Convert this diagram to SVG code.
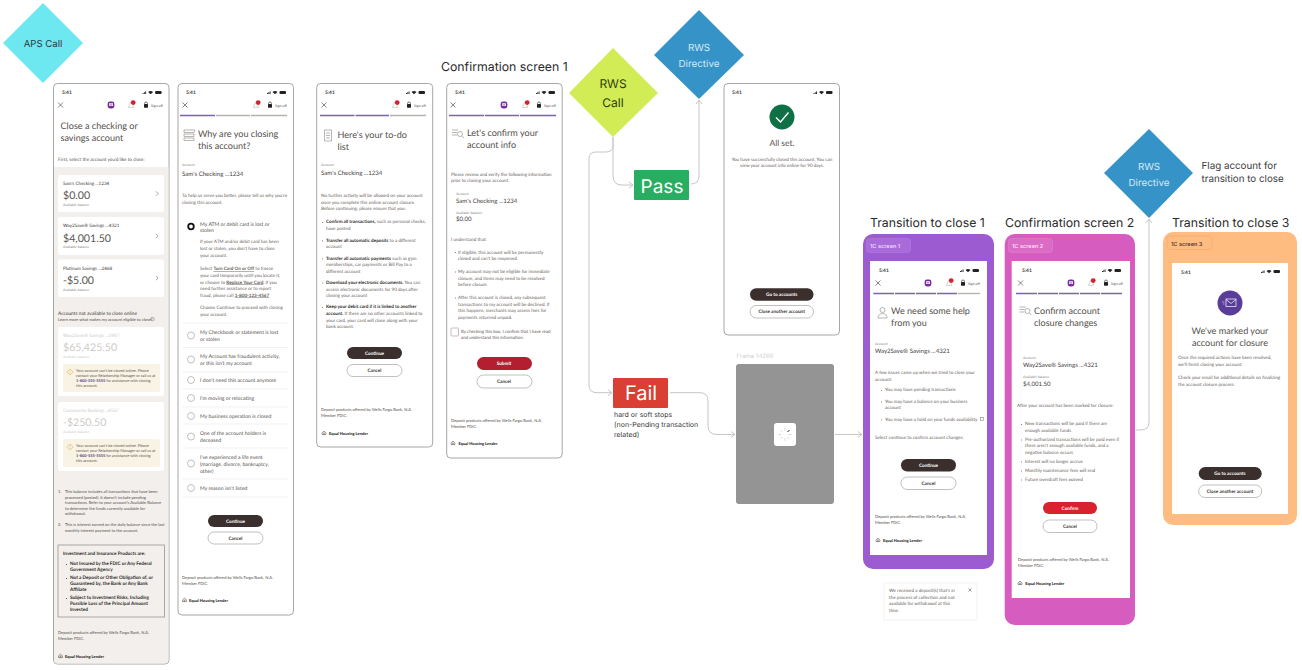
<svg xmlns="http://www.w3.org/2000/svg" xmlns:xlink="http://www.w3.org/1999/xlink" width="1302" height="670" viewBox="0 0 1302 670">
<style>
text{font-family:Lato,"Noto Sans",sans-serif;fill:#44403c;font-size:4.3px;text-rendering:geometricPrecision}
.lab{font-family:Inter,"Liberation Sans",sans-serif}
.h{font-family:Inter,"Liberation Sans",sans-serif;font-size:12.3px;fill:#2b2b2b}
.t{font-size:9.1px;fill:#55504c}
.s{font-size:3.5px;fill:#8a8580}
.acc{font-size:6.1px}
.f{font-size:4.05px;fill:#55504c}
.b{font-weight:700;fill:#2d2a28}
.bb{font-size:4.7px;font-weight:700;fill:#2d2a28}
.o{font-size:5.15px;fill:#55504c}
.n{font-size:4.6px;fill:#5f5a56}
.g{fill:#cfcbc7}
.bal{font-size:10.6px;fill:#5a5651}
.w{font-size:3.9px;fill:#5f5a56}
.cn1{font-size:4.6px;fill:#3a3633}
.cg{font-size:4.6px;fill:#cfcbc7}
.ehl{font-size:4px;font-weight:900;fill:#2d2a28}
.tim{font-size:4.9px;font-weight:700;fill:#3a3633}
.so{font-size:3.6px;fill:#55504c}
.bt{font-size:4.7px;font-weight:700;fill:#fff;text-anchor:middle}
.bc{font-size:4.7px;font-weight:700;fill:#3a3633;text-anchor:middle}
.phone{fill:#fff;stroke:#a9a6a3;stroke-width:1}
.dk{fill:#3a2f2d}
.ol{fill:#fff;stroke:#9a9693;stroke-width:.6}
.r{fill:#fff;stroke:#a8a5a2;stroke-width:.7}
.dv{stroke:#eceae8;stroke-width:.6}
.pu{fill:none;stroke:#7a62b8;stroke-width:1.4}
.pg{fill:none;stroke:#b5b2af;stroke-width:1.4}
.card{fill:#fff}
.nb{fill:#f8f3e4}
.cn{fill:none;stroke:#c6c6c6;stroke-width:1}
.tg{font-family:Inter,"Liberation Sans",sans-serif;font-size:5.6px;font-weight:600}
.ic{fill:none;stroke:#8a8580;stroke-width:.6}
.d{font-family:Inter,"Liberation Sans",sans-serif;font-size:9.8px;text-anchor:middle;fill:#d4e9f6}
</style>
<defs>
<marker id="ar" markerWidth="8" markerHeight="8" refX="6" refY="4" orient="auto" markerUnits="userSpaceOnUse"><path d="M2,1 L6,4 L2,7" fill="none" stroke="#c6c6c6" stroke-width="1"/></marker>
<g id="st"><rect x="0" y="1" width=".9" height="1" fill="#222"/><rect x="1.3" y=".2" width=".9" height="1.8" fill="#222"/><rect x="2.6" y="-.6" width=".9" height="2.6" fill="#222"/><path d="M5.5,0 Q8,-2 10.5,0 L8,2.3Z" fill="#222"/><rect x="12.5" y="-1" width="6.5" height="3" rx="1" fill="#222"/></g>
<path id="xx" d="M-2.5,-2.5 L2.5,2.5 M2.5,-2.5 L-2.5,2.5" stroke="#555" stroke-width=".7" fill="none"/>
<g id="chat"><rect x="-3.4" y="-3.4" width="6.8" height="6.8" rx="2.4" fill="#7b2d9e"/><rect x="-1.9" y="-1.8" width="3.8" height="2.8" fill="#fff"/><path d="M-1.4,-.8H1.4M-1.4,.2H1" stroke="#7b2d9e" stroke-width=".5"/></g>
<g id="bell"><path d="M-2.6,2.4 Q-1.6,1 -1.6,-.6 Q-1,-2.6 .6,-2.6 Q2,-2 2,0 L2.6,2.4Z" fill="#fff" stroke="#a9a6a3" stroke-width=".5"/><circle cx="2.2" cy="-2.4" r="2.4" fill="#d3212d"/></g>
<g id="lock"><path d="M-1.4,-.8 V-1.7 Q-1.4,-3 0,-3 Q1.4,-3 1.4,-1.7 V-.8" fill="none" stroke="#222" stroke-width=".6"/><rect x="-2" y="-.9" width="4" height="3.6" rx=".6" fill="#222"/></g>
<path id="eh" d="M-1.9,-.2 L0,-1.9 L1.9,-.2 V1.6 H-1.9Z M-.8,.1H.8M-.8,1H.8" fill="none" stroke="#3a3633" stroke-width=".5"/>
<g id="wi"><path d="M0,-3 L3.2,0 L0,3 L-3.2,0Z" fill="none" stroke="#d8a93c" stroke-width=".5"/><path d="M0,-1.4V.4M0,1V1.5" stroke="#d8a93c" stroke-width=".5"/></g>
<path id="chev" d="M-1,-2.2 L1.2,0 L-1,2.2" fill="none" stroke="#666" stroke-width=".6"/>
</defs>

<g id="connectors">
<path class="cn" marker-end="url(#ar)" d="M613,137 V176 Q613,185 622,185 H633"/>
<path class="cn" marker-end="url(#ar)" d="M613,137 V146 Q613,152 606,152 H596 Q589,152 589,159 V385 Q589,392.7 597,392.7 H612"/>
<path class="cn" marker-end="url(#ar)" d="M691,184 Q699,184 699,176 V100"/>
<path class="cn" marker-end="url(#ar)" d="M670,392.7 H700 Q708,392.7 708,401 V426 Q708,434.5 717,434.5 H735"/>
<path class="cn" marker-end="url(#ar)" d="M835,434.5 H862"/>
<path class="cn" marker-end="url(#ar)" d="M1136,430 H1141 Q1149,430 1149,422 V219"/>
</g>

<g id="aps-call"><path d="M43,3 L83,43 L43,83 L3,43Z" fill="#6de8f0"/><text class="lab" x="43" y="47" text-anchor="middle" style="font-size:9.6px;fill:#263a3d">APS Call</text></g>
<g id="rws-call"><path d="M613,48 L658,93 L613,137 L569,93Z" fill="#d2ec55"/><text class="d" x="613" y="88" style="font-size:12px;fill:#2f3a10">RWS</text><text class="d" x="613" y="107" style="font-size:12px;fill:#2f3a10">Call</text></g>
<g id="rws-directive-1"><path d="M699,10 L744,55 L699,99 L654,55Z" fill="#3593c8"/><text class="d" x="699" y="51">RWS</text><text class="d" x="699" y="67">Directive</text></g>
<g id="rws-directive-2"><path d="M1149,129 L1193,173 L1149,218 L1104,173Z" fill="#3593c8"/><text class="d" x="1149" y="170">RWS</text><text class="d" x="1149" y="186">Directive</text></g>
<g id="flag-note"><text class="lab" x="1201.5" y="168.5" style="font-size:9.8px;fill:#3a3a3a">Flag account for</text><text class="lab" x="1201.5" y="181.5" style="font-size:9.8px;fill:#3a3a3a">transition to close</text></g>
<g id="pass"><rect x="634" y="170" width="55" height="30" rx="1" fill="#27ae60"/><text class="lab" x="662" y="192.5" text-anchor="middle" style="font-size:19px;fill:#fff">Pass</text></g>
<g id="fail"><rect x="613" y="378" width="55" height="30" rx="1" fill="#d94033"/><text class="lab" x="641" y="400" text-anchor="middle" style="font-size:20px;fill:#fff">Fail</text></g>
<g id="fail-note"><text class="lab" x="614" y="417" style="font-size:7px;fill:#3a3a3a">hard or soft stops</text><text class="lab" x="614" y="427" style="font-size:7px;fill:#3a3a3a">(non-Pending transaction</text><text class="lab" x="614" y="437" style="font-size:7px;fill:#3a3a3a">related)</text></g>

<g id="frame-14266"><text class="lab" x="736.5" y="358" style="font-size:6px;fill:#d0d0d0">Frame 14266</text><rect x="736" y="364" width="98" height="140" rx="3" fill="#949494"/><rect x="774" y="423" width="22" height="23" rx="3" fill="#fff"/><path d="M785,428V431M785,438V441M778.5,434.5H781.5M788.5,434.5H791.5M780.5,430L782.5,432M787.5,437L789.5,439M780.5,439L782.5,437" stroke="#ccc" stroke-width=".7" fill="none"/><path d="M787.5,432L789.5,430" stroke="#222" stroke-width="1"/></g>

<g id="screen-select-account">
<rect class="phone" x="53.5" y="83.5" width="115.5" height="580.5" rx="4"/>
<path d="M54,167H168.5V660Q168.5,663.5 165,663.5H57Q54,663.5 54,660Z" fill="#f2efec"/>
<text class="tim" x="62" y="94">5:41</text><use href="#st" x="142.6" y="92"/><use href="#xx" x="60.5" y="105"/><use href="#chat" x="111" y="105"/><use href="#bell" x="131" y="105"/><use href="#lock" x="146" y="105"/><text class="so" x="151" y="106.5">Sign off</text>
<text class="t" x="60.5" y="129">Close a checking or</text><text class="t" x="60.5" y="141">savings account</text>
<text class="f" x="58" y="161" style="font-size:4.65px">First, select the account you'd like to close:</text>
<rect class="card" x="58" y="175" width="106" height="37" rx="2"/><rect class="card" x="58" y="217" width="106" height="38" rx="2"/><rect class="card" x="58" y="259.5" width="106" height="37.5" rx="2"/>
<text class="cn1" x="63" y="185">Sam's Checking ...1234</text><text class="bal" x="63" y="199">$0.00</text><text class="s" x="63" y="206">Available balance</text><use href="#chev" x="157" y="193.5"/>
<text class="cn1" x="63" y="227">Way2Save® Savings ...4321</text><text class="bal" x="63" y="241.5">$4,001.50</text><text class="s" x="63" y="248">Available balance</text><use href="#chev" x="157" y="236"/>
<text class="cn1" x="63" y="270">Platinum Savings ...2468</text><text class="bal" x="63" y="284">-$5.00</text><text class="s" x="63" y="291">Available balance</text><use href="#chev" x="157" y="278"/>
<text class="f" x="58" y="315" style="font-size:4.8px;fill:#3a3633">Accounts not available to close online</text><text class="s" x="58" y="321" style="font-size:4.1px;fill:#55504c">Learn more what makes my account eligible to close?</text><circle class="ic" cx="152.5" cy="319" r="1.8"/>
<rect class="card" x="58" y="327" width="106" height="69" rx="2"/>
<text class="cg" x="63" y="337">Way2Save® Savings ...0987</text><text class="bal" x="63" y="351" style="fill:#cfcbc7">$65,425.50</text><text class="s g" x="63" y="358">Available balance</text>
<rect class="nb" x="63" y="364" width="97" height="28" rx="2"/><use href="#wi" x="70" y="372"/>
<text class="w" x="76" y="372">Your account can't be closed online. Please</text><text class="w" x="76" y="377">contact your Relationship Manager or call us at</text><text class="w" x="76" y="382"><tspan fill="#4a3a80" font-weight="700">1-800-555-5555</tspan> for assistance with closing</text><text class="w" x="76" y="387">this account.</text>
<rect class="card" x="58" y="402" width="106" height="69" rx="2"/>
<text class="cg" x="63" y="412">Community Banking ...4567</text><text class="bal" x="63" y="426" style="fill:#cfcbc7">-$250.50</text><text class="s g" x="63" y="433">Available balance</text>
<rect class="nb" x="63" y="439" width="97" height="28" rx="2"/><use href="#wi" x="70" y="447"/>
<text class="w" x="76" y="447">Your account can't be closed online. Please</text><text class="w" x="76" y="452">contact your Relationship Manager or call us at</text><text class="w" x="76" y="457"><tspan fill="#4a3a80" font-weight="700">1-800-555-5555</tspan> for assistance with closing</text><text class="w" x="76" y="462">this account.</text>
<text class="f" x="58" y="493">1.</text><text class="f" x="65" y="493">This balance includes all transactions that have been</text><text class="f" x="65" y="498.5">processed (posted). It doesn't include pending</text><text class="f" x="65" y="504">transactions. Refer to your account's Available Balance</text><text class="f" x="65" y="509.5">to determine the funds currently available for</text><text class="f" x="65" y="515">withdrawal.</text>
<text class="f" x="58" y="526">2.</text><text class="f" x="65" y="526">This is interest earned on the daily balance since the last</text><text class="f" x="65" y="532">monthly interest payment to the account.</text>
<rect x="58" y="545" width="106.5" height="72" fill="none" stroke="#9a9693" stroke-width=".8"/>
<text class="bb" x="63" y="555">Investment and Insurance Products are:</text>
<path d="M66,564.5h.8M66,578.5h.8M66,598.5h.8" stroke="#222" stroke-width=".9"/>
<text class="bb" x="70" y="565">Not Insured by the FDIC or Any Federal</text><text class="bb" x="70" y="571">Government Agency</text><text class="bb" x="70" y="579">Not a Deposit or Other Obligation of, or</text><text class="bb" x="70" y="585">Guaranteed by, the Bank or Any Bank</text><text class="bb" x="70" y="591">Affiliate</text><text class="bb" x="70" y="599">Subject to Investment Risks, Including</text><text class="bb" x="70" y="605">Possible Loss of the Principal Amount</text><text class="bb" x="70" y="611">Invested</text>
<text class="f" x="58" y="634">Deposit products offered by Wells Fargo Bank, N.A.</text><text class="f" x="58" y="640">Member FDIC.</text><use href="#eh" x="60.5" y="656"/><text class="ehl" x="65" y="658">Equal Housing Lender</text>
</g>

<g id="screen-why-closing">
<rect class="phone" x="178" y="83.5" width="115.5" height="531.5" rx="4"/>
<text class="tim" x="186" y="94">5:41</text><use href="#st" x="267" y="92"/><use href="#xx" x="185" y="105"/><use href="#bell" x="256" y="105"/><use href="#lock" x="270" y="105"/><text class="so" x="275" y="106.5">Sign off</text>
<path class="pu" d="M180,115.5H215"/><path class="pg" d="M216,115.5H250M251,115.5H287"/>
<path class="ic" d="M184,130h11l-1,2.5h-10zM184,134h10v2.5h-10zM184,138h10v2.5h-10z"/>
<text class="t" x="198" y="137">Why are you closing</text><text class="t" x="198" y="149">this account?</text>
<text class="s" x="182" y="166">Account</text><text class="acc" x="182" y="176">Sam's Checking ...1234</text>
<text class="n" x="182" y="197">To help us serve you better, please tell us why you're</text><text class="n" x="182" y="204">closing this account.</text>
<circle cx="191" cy="226.5" r="2.8" fill="#fff" stroke="#111" stroke-width="1.8"/>
<text class="o" x="200" y="225.5">My ATM or debit card is lost or</text><text class="o" x="200" y="232">stolen</text>
<text class="n" x="200" y="243">If your ATM and/or debit card has been</text><text class="n" x="200" y="250">lost or stolen, you don't have to close</text><text class="n" x="200" y="256.5">your account.</text>
<text class="n" x="200" y="270">Select <tspan font-weight="700" text-decoration="underline">Turn Card On or Off</tspan> to freeze</text><text class="n" x="200" y="277">your card temporarily until you locate it,</text><text class="n" x="200" y="283.5">or choose to <tspan font-weight="700" text-decoration="underline">Replace Your Card</tspan>. If you</text><text class="n" x="200" y="290">need further assistance or to report</text><text class="n" x="200" y="296.5">fraud, please call <tspan font-weight="700" text-decoration="underline">1-800-123-4567</tspan></text>
<text class="n" x="200" y="309">Choose Continue to proceed with closing</text><text class="n" x="200" y="315.5">your account.</text>
<path class="dv" d="M182,323H288M182,347.5H288M182,372H288M182,389H288M182,407H288M182,424H288M182,448H288M182,479H288M182,497H288"/>
<circle class="r" cx="191" cy="335.5" r="3.5"/><text class="o" x="200" y="334">My Checkbook or statement is lost</text><text class="o" x="200" y="341">or stolen</text>
<circle class="r" cx="191" cy="359.5" r="3.5"/><text class="o" x="200" y="357.5">My Account has fraudulent activity,</text><text class="o" x="200" y="364.5">or this isn't my account</text>
<circle class="r" cx="191" cy="380" r="3.5"/><text class="o" x="200" y="382">I don't need this account anymore</text>
<circle class="r" cx="191" cy="398" r="3.5"/><text class="o" x="200" y="400">I'm moving or relocating</text>
<circle class="r" cx="191" cy="416" r="3.5"/><text class="o" x="200" y="418">My business operation is closed</text>
<circle class="r" cx="191" cy="436.5" r="3.5"/><text class="o" x="200" y="434.5">One of the account holders is</text><text class="o" x="200" y="441.5">deceased</text>
<circle class="r" cx="191" cy="463.5" r="3.5"/><text class="o" x="200" y="458.5">I've experienced a life event</text><text class="o" x="200" y="465.5">(marriage, divorce, bankruptcy,</text><text class="o" x="200" y="472.5">other)</text>
<circle class="r" cx="191" cy="488" r="3.5"/><text class="o" x="200" y="490">My reason isn't listed</text>
<rect class="dk" x="208" y="515" width="55" height="12" rx="6"/><text class="bt" x="235.5" y="522.7">Continue</text><rect class="ol" x="208" y="532" width="55" height="12" rx="6"/><text class="bc" x="235.5" y="539.7">Cancel</text>
<text class="f" x="182" y="578.5">Deposit products offered by Wells Fargo Bank, N.A.</text><text class="f" x="182" y="584.5">Member FDIC.</text><use href="#eh" x="184.5" y="600"/><text class="ehl" x="189" y="602">Equal Housing Lender</text>
</g>

<g id="screen-to-do">
<rect class="phone" x="316.7" y="83.5" width="116" height="363.5" rx="4"/>
<text class="tim" x="325" y="94">5:41</text><use href="#st" x="406" y="92"/><use href="#xx" x="324" y="105"/><use href="#bell" x="395" y="105"/><use href="#lock" x="409" y="105"/><text class="so" x="414" y="106.5">Sign off</text>
<path class="pu" d="M320,115.5H354.5M355.5,115.5H389"/><path class="pg" d="M390,115.5H426"/>
<path class="ic" d="M324.5,130h7v11h-7zM326,133h4M326,135.5h4M326,138h4"/>
<text class="t" x="337.5" y="138">Here's your to-do</text><text class="t" x="337.5" y="150">list</text>
<text class="s" x="321" y="166">Account</text><text class="acc" x="321" y="175">Sam's Checking ...1234</text>
<text class="n" x="321" y="197">No further activity will be allowed on your account</text><text class="n" x="321" y="203.5">once you complete this online account closure.</text><text class="n" x="321" y="210">Before continuing, please ensure that you:</text>
<path d="M322,222.5h.7M322,241h.7M322,259h.7M322,283h.7M322,307.5h.7" stroke="#222" stroke-width=".8"/>
<text class="n" x="326" y="223"><tspan class="b">Confirm all transactions,</tspan> such as personal checks,</text><text class="n" x="326" y="230">have posted</text>
<text class="n" x="326" y="241.5"><tspan class="b">Transfer all automatic deposits</tspan> to a different</text><text class="n" x="326" y="247.5">account</text>
<text class="n" x="326" y="259.5"><tspan class="b">Transfer all automatic payments</tspan> such as gym</text><text class="n" x="326" y="266">memberships, car payments or Bill Pay to a</text><text class="n" x="326" y="272.5">different account</text>
<text class="n" x="326" y="283.5"><tspan class="b">Download your electronic documents.</tspan> You can</text><text class="n" x="326" y="290.5">access electronic documents for 90 days after</text><text class="n" x="326" y="297">closing your account</text>
<text class="n" x="326" y="308"><tspan class="b">Keep your debit card if it is linked to another</tspan></text><text class="n" x="326" y="315"><tspan class="b">account.</tspan> If there are no other accounts linked to</text><text class="n" x="326" y="321.5">your card, your card will close along with your</text><text class="n" x="326" y="328">bank account.</text>
<rect class="dk" x="347" y="347" width="55" height="12" rx="6"/><text class="bt" x="374.5" y="354.7">Continue</text><rect class="ol" x="347" y="364.5" width="55" height="12" rx="6"/><text class="bc" x="374.5" y="372.2">Cancel</text>
<text class="f" x="321" y="410.5">Deposit products offered by Wells Fargo Bank, N.A.</text><text class="f" x="321" y="417">Member FDIC.</text><use href="#eh" x="324" y="433"/><text class="ehl" x="329" y="434.5">Equal Housing Lender</text>
</g>

<g id="screen-confirm-1">
<text class="h" x="441" y="71">Confirmation screen 1</text>
<rect class="phone" x="446.7" y="83.5" width="115.5" height="374.5" rx="4"/>
<text class="tim" x="455" y="94">5:41</text><use href="#st" x="536" y="92"/><use href="#xx" x="453" y="105"/><use href="#chat" x="504" y="105"/><use href="#bell" x="525" y="105"/><use href="#lock" x="539" y="105"/><text class="so" x="544" y="106.5">Sign off</text>
<path class="pu" d="M449,115.5H484M485,115.5H519M520,115.5H556"/>
<path class="ic" d="M452,130h6M452,132.5h5M452,135h5"/><circle class="ic" cx="460" cy="134" r="2.5"/><path class="ic" d="M462,136l2,2"/>
<text class="t" x="467" y="136">Let's confirm your</text><text class="t" x="467" y="148">account info</text>
<text class="n" x="451" y="175.5">Please review and verify the following information</text><text class="n" x="451" y="182">prior to closing your account.</text>
<text class="s" x="456" y="194.5">Account</text><text class="acc" x="456" y="203">Sam's Checking ...1234</text><text class="s" x="456" y="213.5">Available balance</text><text class="acc" x="456" y="221">$0.00</text>
<text class="n" x="451" y="240.5">I understand that:</text>
<path d="M455,252.5h.7M455,272h.7M455,298h.7" stroke="#222" stroke-width=".8"/>
<text class="n" x="458" y="253.5">If eligible, this account will be permanently</text><text class="n" x="458" y="260">closed and can't be reopened.</text>
<text class="n" x="458" y="273">My account may not be eligible for immediate</text><text class="n" x="458" y="279.5">closure, and items may need to be resolved</text><text class="n" x="458" y="286">before closure.</text>
<text class="n" x="458" y="299">After this account is closed, any subsequent</text><text class="n" x="458" y="305.5">transactions to my account will be declined. If</text><text class="n" x="458" y="312">this happens, merchants may assess fees for</text><text class="n" x="458" y="318.5">payments returned unpaid.</text>
<rect x="451" y="328" width="7.5" height="8" rx="1" fill="#fff" stroke="#9a9693" stroke-width=".6"/>
<text class="n" x="461" y="332.5" style="font-size:4.4px">By checking this box, I confirm that I have read</text><text class="n" x="461" y="339" style="font-size:4.4px">and understand this information.</text>
<rect x="477" y="357" width="55" height="13" rx="6.5" fill="#b31e30"/><text class="bt" x="504" y="365.2">Submit</text><rect class="ol" x="477" y="375" width="55" height="13" rx="6.5"/><text class="bc" x="504" y="383.2">Cancel</text>
<text class="f" x="451" y="421.5">Deposit products offered by Wells Fargo Bank, N.A.</text><text class="f" x="451" y="427.5">Member FDIC.</text><use href="#eh" x="453" y="443"/><text class="ehl" x="458.5" y="445">Equal Housing Lender</text>
</g>

<g id="screen-all-set">
<rect class="phone" x="724" y="83.5" width="115.5" height="251.5" rx="4"/>
<text class="tim" x="732" y="94">5:41</text><use href="#st" x="813.5" y="92"/>
<circle cx="782" cy="117" r="12.5" fill="#0f7045"/><path d="M776,117.5L780.5,122L788.5,112.5" fill="none" stroke="#fff" stroke-width="1.4"/>
<text x="782" y="146" text-anchor="middle" style="font-size:8.5px;fill:#55504c">All set.</text>
<text class="n" x="782" y="160.5" text-anchor="middle">You have successfully closed this account. You can</text><text class="n" x="782" y="167" text-anchor="middle">view your account info online for 90 days.</text>
<rect class="dk" x="750" y="288.3" width="63.5" height="12.5" rx="6.2"/><text class="bt" x="781.7" y="296.2">Go to accounts</text><rect class="ol" x="750" y="305.5" width="63.5" height="12.5" rx="6.2"/><text class="bc" x="781.7" y="313.4">Close another account</text>
</g>

<g id="panel-1c-screen-1">
<text class="h" x="870" y="227">Transition to close 1</text>
<rect x="863" y="234" width="131" height="335" rx="10" fill="#9d5bd2"/><rect x="866.5" y="238.5" width="44" height="14" rx="3" fill="#a86bd9" stroke="#b27ee0" stroke-width=".6"/><text class="tg" x="870" y="248" style="fill:#ead8f8">1C screen 1</text>
<rect x="870" y="261" width="117" height="294" fill="#fff"/>
<text class="tim" x="879" y="272">5:41</text><use href="#st" x="960" y="270"/><use href="#xx" x="878" y="283"/><use href="#chat" x="928" y="283"/><use href="#bell" x="949" y="283"/><use href="#lock" x="963" y="283"/><text class="so" x="968" y="284.5">Sign off</text>
<path class="pu" d="M873.3,293.5H894M895,293.5H915M916,293.5H936M937,293.5H957"/><path class="pg" d="M958,293.5H980"/>
<circle class="ic" cx="882.5" cy="310" r="2.5"/><path class="ic" d="M878,318q0,-4 4.5,-4.5q4.5,.5 4.5,4.5z"/>
<text class="t" x="891" y="314">We need some help</text><text class="t" x="891" y="326">from you</text>
<text class="s" x="875" y="344.5">Account</text><text class="acc" x="875" y="353">Way2Save® Savings ...4321</text>
<text class="n" x="875" y="374">A few issues came up when we tried to close your</text><text class="n" x="875" y="381">account:</text>
<path d="M881,390.5h.7M881,402h.7M881,420h.7" stroke="#222" stroke-width=".8"/>
<text class="n" x="885" y="391">You may have pending transactions</text><text class="n" x="885" y="402.5">You may have a balance on your business</text><text class="n" x="885" y="409">account</text><text class="n" x="885" y="420.5">You may have a hold on your funds availability</text><rect class="ic" x="980.5" y="417.5" width="3" height="3"/>
<text class="n" x="875" y="438.5">Select continue to confirm account changes.</text>
<rect class="dk" x="901" y="459" width="55" height="12.5" rx="6.2"/><text class="bt" x="928.5" y="466.9">Continue</text><rect class="ol" x="901" y="477" width="55" height="12.5" rx="6.2"/><text class="bc" x="928.5" y="484.9">Cancel</text>
<text class="f" x="875" y="518">Deposit products offered by Wells Fargo Bank, N.A.</text><text class="f" x="875" y="524">Member FDIC.</text><use href="#eh" x="878" y="540"/><text class="ehl" x="883" y="541.5">Equal Housing Lender</text>
</g>

<g id="tooltip-deposit">
<rect x="884" y="583" width="93" height="37" fill="#fff" stroke="#f0eeec" stroke-width=".7"/>
<text class="n" x="889" y="592">We received a deposit(s) that's in</text><text class="n" x="889" y="598.5">the process of collection and not</text><text class="n" x="889" y="605">available for withdrawal at this</text><text class="n" x="889" y="612">time.</text>
<path d="M968.5,588.5L971.5,591.5M971.5,588.5L968.5,591.5" stroke="#555" stroke-width=".6"/>
</g>

<g id="panel-1c-screen-2">
<text class="h" x="1005" y="227">Confirmation screen 2</text>
<rect x="1004.7" y="234" width="130.3" height="391" rx="10" fill="#d65cc0"/><rect x="1008.5" y="238.5" width="44" height="14" rx="3" fill="#da6cc6" stroke="#e07fce" stroke-width=".6"/><text class="tg" x="1012" y="248" style="fill:#f8dcf2">1C screen 2</text>
<rect x="1011.7" y="261" width="118.3" height="337" fill="#fff"/>
<text class="tim" x="1022" y="272">5:41</text><use href="#st" x="1102" y="270"/><use href="#xx" x="1020.5" y="283"/><use href="#chat" x="1071" y="283"/><use href="#bell" x="1091" y="283"/><use href="#lock" x="1106" y="283"/><text class="so" x="1111" y="284.5">Sign off</text>
<path class="pu" d="M1016,293.5H1037M1038,293.5H1058M1059,293.5H1079M1080,293.5H1100M1101,293.5H1122"/>
<path class="ic" d="M1019.5,307h6M1019.5,309.5h5M1019.5,312h5"/><circle class="ic" cx="1027.5" cy="311" r="2.5"/><path class="ic" d="M1029.5,313l2,2"/>
<text class="t" x="1034" y="314">Confirm account</text><text class="t" x="1034" y="326">closure changes</text>
<text class="s" x="1023" y="359">Account</text><text class="acc" x="1023" y="367">Way2Save® Savings ...4321</text><text class="s" x="1023" y="377.5">Available balance</text><text class="acc" x="1023" y="385.5">$4,001.50</text>
<text class="n" x="1017" y="406.5">After your account has been marked for closure:</text>
<path d="M1021,424.5h.7M1021,440h.7M1021,462h.7M1021,471h.7M1021,480h.7" stroke="#222" stroke-width=".8"/>
<text class="n" x="1025" y="425">New transactions will be paid if there are</text><text class="n" x="1025" y="431.7">enough available funds</text><text class="n" x="1025" y="440.5">Pre-authorized transactions will be paid even if</text><text class="n" x="1025" y="447">there aren't enough available funds, and a</text><text class="n" x="1025" y="454">negative balance occurs</text><text class="n" x="1025" y="462.7">Interest will no longer accrue</text><text class="n" x="1025" y="471.7">Monthly maintenance fees will end</text><text class="n" x="1025" y="480.7">Future overdraft fees waived</text>
<rect x="1043" y="502" width="54" height="12" rx="6" fill="#d8232f"/><text class="bt" x="1070" y="509.7">Confirm</text><rect class="ol" x="1043" y="520" width="54" height="12.5" rx="6.2"/><text class="bc" x="1070" y="527.9">Cancel</text>
<text class="f" x="1018" y="561">Deposit products offered by Wells Fargo Bank, N.A.</text><text class="f" x="1018" y="567">Member FDIC.</text><use href="#eh" x="1020" y="583"/><text class="ehl" x="1025.3" y="584.7">Equal Housing Lender</text>
</g>

<g id="panel-1c-screen-3">
<text class="h" x="1172" y="226.5">Transition to close 3</text>
<rect x="1163" y="232" width="134" height="293" rx="10" fill="#ffbc80"/><rect x="1167" y="236" width="45" height="13.5" rx="3" fill="#ffbc80" stroke="#efa766" stroke-width=".6"/><text class="tg" x="1171" y="245.5" style="fill:#5a4030">1C screen 3</text>
<rect x="1172" y="263" width="116" height="251" fill="#fff"/>
<text class="tim" x="1181" y="273.5">5:41</text><use href="#st" x="1261" y="271"/>
<circle cx="1230" cy="303" r="12.5" fill="#5a3d99"/><rect x="1226" y="299" width="10" height="7.5" fill="none" stroke="#fff" stroke-width=".7"/><path d="M1226,299.5L1231,303.5L1236,299.5" fill="none" stroke="#fff" stroke-width=".7"/><path d="M1222,302h2.5M1223,304h1.5" stroke="#fff" stroke-width=".5"/>
<text class="t" x="1230" y="333.5" text-anchor="middle">We've marked your</text><text class="t" x="1230" y="345.5" text-anchor="middle">account for closure</text>
<text class="n" x="1178" y="359">Once the required actions have been resolved,</text><text class="n" x="1178" y="365.7">we'll finish closing your account.</text><text class="n" x="1178" y="378.8">Check your email for additional details on finalizing</text><text class="n" x="1178" y="385.5">the account closure process.</text>
<rect class="dk" x="1198.7" y="467" width="63" height="13" rx="6.5"/><text class="bt" x="1230" y="475.3">Go to accounts</text><rect class="ol" x="1198.7" y="485" width="63" height="12.5" rx="6.2"/><text class="bc" x="1230" y="493">Close another account</text>
</g>
</svg>
